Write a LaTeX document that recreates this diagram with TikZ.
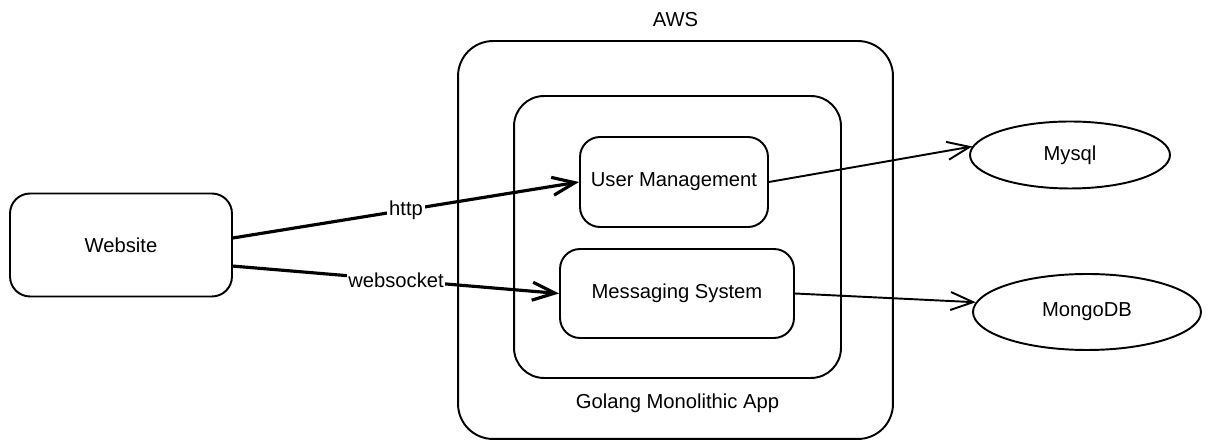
\documentclass[tikz,border=0pt]{standalone}
\usepackage{fontspec}
\setmainfont{Liberation Sans}
\usetikzlibrary{positioning,shapes.geometric,arrows.meta}

\begin{document}
\begin{tikzpicture}[x=0.02cm, y=-0.02cm, line width=1.1pt, line join=round,
        >={Straight Barb[length=4.5mm, width=3.6mm]},
        txt/.style = {font=\fontsize{11.5}{14}\selectfont},
        box/.style = {draw, txt, rounded corners=4mm},
        frame/.style = {draw, rounded corners=7mm},
        db/.style = {draw, ellipse, txt, inner sep=0pt},
        lbl/.style = {txt, inner sep=0pt},
        wire/.style = {->, line width=1.8pt},
        link/.style = {->, line width=1.1pt}]
        \useasboundingbox (0,0) rectangle (1211,448);

        \node[frame, minimum width=8.7cm, minimum height=7.96cm] (aws) at (675.5,240) {};
        \node[frame, rounded corners=6mm, minimum width=6.54cm, minimum height=5.64cm] (app) at (677.5,237) {};
        \node[lbl] (awslabel) [above=2.4mm of aws] {AWS};
        \node[lbl] (applabel) [below=2.8mm of app] {Golang Monolithic App};

        \node[box, minimum width=4.44cm, minimum height=2.06cm] (website) at (121,245) {Website};
        \node[box, minimum width=3.76cm, minimum height=1.8cm] (um) at (674,182) {User Management};
        \node[box, minimum width=4.68cm, minimum height=1.78cm] (ms) at (677,293.5) {Messaging System};

        \node[db, minimum width=4cm, minimum height=1.34cm] (mysql) at (1070,155) {Mysql};
        \node[db, minimum width=4.56cm, minimum height=1.52cm] (mongo) at (1087,312) {MongoDB};

        \draw[wire] ([yshift=4pt]website.east) -- (um.west) node [midway, lbl, fill=white, inner sep=1pt] {http};
        \draw[wire] ([yshift=-12pt]website.east) -- (ms.west) node [midway, lbl, fill=white, inner sep=1pt] {websocket};
        \draw[link] (um.east) -- (mysql.175);
        \draw[link] (ms.east) -- (mongo.175);

    \end{tikzpicture}
\end{document}
